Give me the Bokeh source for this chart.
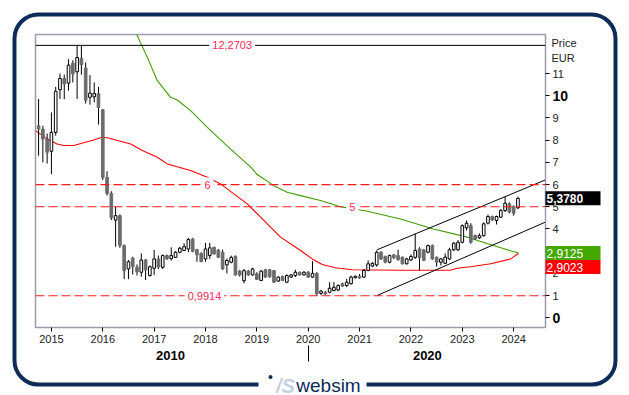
from bokeh.plotting import figure
from bokeh.layouts import column
from bokeh.models import Range1d, FixedTicker, Label, BoxAnnotation, Span, LinearAxis
from bokeh.embed import file_html
from bokeh.resources import INLINE

# ---------------- data ----------------
START = 2014.75  # first monthly candle: Oct 2014
OPEN = [8.65, 8.5, 8.05, 7.5, 8.35, 10.27, 10.78, 10.57, 11.47, 11.08, 11.68, 11.25,
        9.93, 9.95, 10.1, 9.37, 6.32, 5.6, 4.4, 4.6, 3.25, 2.2, 2.69, 2.27,
        2.05, 2.6, 1.9, 2.23, 2.65, 2.27, 2.8, 2.66, 2.72, 2.95, 3.03, 3.1,
        3.55, 3.07, 2.9, 2.65, 2.8, 3.17, 3.05, 2.95, 2.38, 2.5, 2.77, 2.1,
        1.67, 2.1, 1.93, 1.98, 1.68, 2.16, 2.16, 2.13, 1.65, 1.86, 1.6, 1.83,
        1.9, 2.05, 1.93, 2.05, 1.83, 2.0, 1.1, 1.15, 1.15, 1.22, 1.25, 1.53,
        1.45, 1.53, 1.8, 1.87, 1.83, 2.13, 2.33, 2.38, 2.95, 2.76, 2.5, 2.83,
        2.8, 2.73, 2.43, 2.6, 2.72, 3.1, 3.06, 2.95, 3.25, 2.73, 2.5, 2.45,
        2.65, 3.06, 3.06, 3.4, 4.05, 4.15, 3.7, 3.6, 3.7, 4.26, 4.56, 4.38,
        4.53, 4.83, 5.13, 5.01, 4.95]
HIGH = [9.85, 8.65, 8.3, 9.25, 10.4, 11.0, 10.95, 11.65, 11.6, 12.27, 12.25, 11.5,
        10.93, 10.6, 10.4, 9.4, 6.6, 5.7, 5.0, 4.65, 3.3, 2.6, 2.75, 2.4,
        2.9, 2.65, 2.35, 3.05, 2.8, 2.85, 2.85, 3.17, 3.0, 3.2, 3.35, 3.6,
        3.6, 3.1, 2.95, 3.37, 3.37, 3.2, 3.1, 3.07, 2.67, 2.8, 2.8, 2.15,
        2.2, 2.15, 2.25, 2.05, 2.15, 2.2, 2.2, 2.15, 1.87, 1.9, 1.95, 1.97,
        2.16, 2.08, 2.1, 2.1, 2.55, 2.05, 1.25, 1.2, 1.6, 1.6, 1.5, 1.58,
        1.75, 1.9, 1.9, 1.97, 2.2, 2.58, 2.5, 3.03, 3.0, 2.8, 2.85, 2.88,
        3.07, 2.75, 2.7, 2.85, 3.78, 3.18, 3.1, 3.3, 3.3, 2.75, 2.7, 2.9,
        3.15, 3.4, 3.5, 4.2, 4.38, 4.26, 3.75, 3.8, 4.3, 4.65, 4.6, 4.6,
        4.9, 5.46, 5.2, 5.06, 5.46]
LOW = [7.3, 7.0, 6.95, 6.47, 8.2, 9.85, 9.85, 10.23, 10.6, 9.85, 10.95, 9.65,
       9.6, 9.7, 8.7, 6.2, 5.5, 4.4, 3.2, 3.15, 1.74, 1.74, 1.95, 1.9,
       1.85, 1.7, 1.85, 1.93, 2.2, 2.2, 2.6, 2.58, 2.7, 2.9, 3.0, 2.95,
       2.95, 2.52, 2.5, 2.52, 2.65, 2.85, 2.7, 2.15, 2.0, 2.45, 1.9, 1.85,
       1.55, 1.88, 1.9, 1.7, 1.65, 1.8, 1.8, 1.58, 1.62, 1.65, 1.57, 1.8,
       1.83, 1.9, 1.9, 1.8, 1.8, 0.99, 1.02, 1.03, 1.1, 1.2, 1.2, 1.4,
       1.38, 1.5, 1.77, 1.75, 1.8, 2.1, 2.28, 2.3, 2.6, 2.45, 2.45, 2.65,
       2.58, 2.4, 2.4, 2.55, 2.65, 2.13, 2.55, 2.9, 2.6, 2.3, 2.35, 2.43,
       2.6, 3.0, 3.0, 3.35, 3.93, 3.33, 3.5, 3.55, 3.65, 4.2, 4.35, 4.2,
       4.5, 4.76, 4.7, 4.6, 4.9]
CLOSE = [8.5, 8.05, 7.45, 8.35, 10.2, 10.78, 10.53, 11.38, 10.98, 11.72, 11.4, 9.8,
         10.12, 10.1, 9.47, 6.32, 5.6, 4.5, 4.6, 3.25, 2.12, 2.52, 2.3, 2.07,
         2.6, 2.15, 2.3, 2.65, 2.28, 2.8, 2.66, 2.8, 2.95, 3.13, 3.2, 3.52,
         2.98, 2.83, 2.53, 3.1, 3.15, 2.87, 2.72, 2.2, 2.58, 2.72, 1.93, 1.93,
         2.12, 1.93, 2.2, 1.72, 2.1, 1.83, 1.85, 1.6, 1.83, 1.68, 1.9, 1.93,
         2.05, 1.93, 2.05, 1.83, 2.0, 1.07, 1.2, 1.07, 1.33, 1.37, 1.45, 1.42,
         1.6, 1.83, 1.87, 1.8, 2.13, 2.43, 2.45, 2.95, 2.65, 2.5, 2.8, 2.7,
         2.61, 2.43, 2.65, 2.76, 3.03, 2.7, 2.58, 3.25, 2.65, 2.5, 2.65, 2.73,
         3.06, 3.36, 3.4, 4.15, 4.26, 3.4, 3.55, 3.7, 4.23, 4.56, 4.41, 4.56,
         4.83, 5.16, 4.76, 4.71, 5.378]

RED_T = [2014.69, 2014.914, 2015.109, 2015.239, 2015.434, 2015.628, 2015.823, 2015.984,
         2016.115, 2016.212, 2016.543, 2016.770, 2017.062, 2017.257, 2017.710, 2018.035,
         2018.294, 2018.553, 2018.813, 2019.072, 2019.461, 2019.850, 2020.078, 2020.272,
         2020.531, 2020.856, 2021.796, 2022.769, 2022.899, 2023.158, 2023.553, 2023.942,
         2024.097]
RED_V = [8.43, 8.06, 7.83, 7.76, 7.76, 7.88, 8.01, 8.13,
         8.10, 8.03, 7.83, 7.53, 7.23, 6.93, 6.63, 6.33,
         6.03, 5.58, 5.13, 4.53, 3.63, 3.03, 2.65, 2.40,
         2.25, 2.16, 2.14, 2.14, 2.23, 2.30, 2.43, 2.65,
         2.9023]
GREEN_T = [2016.660, 2016.868, 2017.062, 2017.321, 2017.451, 2017.710, 2018.035, 2018.488,
           2018.877, 2019.008, 2019.331, 2019.591, 2019.850, 2020.239, 2020.628, 2021.154,
           2021.796, 2022.438, 2023.099, 2023.605, 2023.878, 2024.097]
GREEN_V = [12.76, 11.73, 10.68, 9.93, 9.81, 9.33, 8.58, 7.60,
           6.80, 6.45, 5.95, 5.65, 5.50, 5.28, 5.00, 4.80,
           4.45, 4.00, 3.63, 3.25, 3.06, 2.9125]
UPPER_T = [2021.34, 2024.62]
UPPER_V = [3.06, 6.21]
LOWER_T = [2021.34, 2024.62]
LOWER_V = [1.00, 4.31]

TOP_LEVEL = 12.2703
TOP_LABEL_T = 2018.52
DASHED_LEVELS = [6, 5, 0.9914]
LEVEL_LABELS = ["6", "5", "0,9914"]
LEVEL_LABEL_T = [2018.04, 2020.86, 2017.98]
LAST_PRICE = 5.378
GREEN_LAST = 2.9125
RED_LAST = 2.9023
YTICKS = list(range(0, 12))
BOLD_YTICKS = [0, 10]
XTICKS = list(range(2015, 2025))
XTICK_LABELS = [str(y) for y in XTICKS]
DECADE_T = [2017.32, 2022.32]
DECADE_LABELS = ["2010", "2020"]
DECADE_MARK = [2020]

# ---------------- geometry ----------------
W, H = 629, 395
X0, X1 = 2014.69, 2024.62
Y0, Y1 = -0.44, 12.76
FL, FR, FT, FB = 35, 545, 34, 327   # chart frame, page px
FONT = "Liberation Sans"
NAVY = "#0e2c58"
LBL_RED = "#ff2a55"


def val2py(v):
    return FT + (Y1 - v) * (FB - FT) / (Y1 - Y0)


def yr2px(t):
    return FL + (t - X0) * (FR - FL) / (X1 - X0)


# ============ main chart ============
p = figure(width=W, height=H, x_range=Range1d(X0, X1), y_range=Range1d(Y0, Y1),
           y_axis_location="right", output_backend="svg", toolbar_location=None, tools="")
p.frame_align = False
p.min_border = 0
p.min_border_left = FL
p.min_border_right = W - FR
p.min_border_top = FT
p.min_border_bottom = H - FB
p.grid.visible = False
p.outline_line_color = "#9c9cab"
p.outline_line_width = 1.5
p.background_fill_color = "white"
p.border_fill_color = "white"

ax = p.yaxis[0]
ax.ticker = FixedTicker(ticks=YTICKS)
ax.major_label_overrides = {v: " " for v in BOLD_YTICKS}
ax.major_tick_out = 4
ax.major_tick_in = 0
ax.minor_tick_line_color = None
ax.major_tick_line_color = "black"
ax.axis_line_color = "#9c9cab"
ax.major_label_text_font = FONT
ax.major_label_text_font_size = "11px"
ax.major_label_text_color = "#222222"
ax.major_label_standoff = 3

bx = p.xaxis[0]
bx.ticker = FixedTicker(ticks=XTICKS)
bx.major_label_overrides = {t: s for t, s in zip(XTICKS, XTICK_LABELS)}
bx.major_tick_out = 4
bx.major_tick_in = 0
bx.minor_tick_line_color = None
bx.major_tick_line_color = "black"
bx.axis_line_color = "#9c9cab"
bx.major_label_text_font = FONT
bx.major_label_text_font_size = "11px"
bx.major_label_text_color = "#222222"
bx.major_label_standoff = 3

# second time axis: only the long decade mark at 2020
dx = LinearAxis(ticker=FixedTicker(ticks=DECADE_MARK), major_label_overrides={DECADE_MARK[0]: " "})
dx.axis_line_color = None
dx.major_tick_line_color = "black"
dx.major_tick_out = 16
dx.major_tick_in = 0
dx.minor_tick_line_color = None
dx.major_label_text_font_size = "1px"
dx.major_label_standoff = 0
p.add_layout(dx, "below")

# levels
p.add_layout(Span(location=TOP_LEVEL, dimension="width", line_color="black", line_width=1))
for lv in DASHED_LEVELS:
    p.add_layout(Span(location=lv, dimension="width", line_color="#ff1a1a",
                      line_width=1.2, line_dash="9 4"))

# indicators
p.line(RED_T, RED_V, line_color="#ff0000", line_width=1.1)
p.line(GREEN_T, GREEN_V, line_color="#3f9c00", line_width=1.1)
p.line(UPPER_T, UPPER_V, line_color="black", line_width=1)
p.line(LOWER_T, LOWER_V, line_color="black", line_width=1)

# candles
T = [START + i / 12 for i in range(len(CLOSE))]
p.segment(T, HIGH, T, LOW, line_color="black", line_width=1)
up = [i for i in range(len(CLOSE)) if CLOSE[i] >= OPEN[i]]
dn = [i for i in range(len(CLOSE)) if CLOSE[i] < OPEN[i]]
BW = 0.62 / 12
p.vbar(x=[T[i] for i in up], top=[CLOSE[i] for i in up], bottom=[OPEN[i] for i in up],
       width=BW, fill_color="white", line_color="black", line_width=1)
p.vbar(x=[T[i] for i in dn], top=[OPEN[i] for i in dn], bottom=[CLOSE[i] for i in dn],
       width=BW, fill_color="#6c6c6c", line_color="#6c6c6c", line_width=1)

# level labels
p.add_layout(Label(x=TOP_LABEL_T, y=TOP_LEVEL, text="12,2703", text_align="center",
                   text_baseline="middle", text_font=FONT, text_font_size="11px",
                   text_color=LBL_RED, background_fill_color="white", padding=3))
for t, lv, s in zip(LEVEL_LABEL_T, DASHED_LEVELS, LEVEL_LABELS):
    p.add_layout(Label(x=t, y=lv, text=s, text_align="center", text_baseline="middle",
                       text_font=FONT, text_font_size="11px", text_color=LBL_RED,
                       background_fill_color="white", padding=3))

# ============ transparent decoration layer on top (pixel coordinates) ============
deco = figure(width=W, height=H, x_range=Range1d(0, W), y_range=Range1d(H, 0),
              x_axis_location=None, y_axis_location=None,
              output_backend="svg", toolbar_location=None, tools="")
deco.frame_align = False
deco.styles = {"position": "absolute", "top": "0px", "left": "0px"}
deco.min_border = 0
deco.grid.visible = False
deco.outline_line_color = None
deco.background_fill_alpha = 0
deco.border_fill_alpha = 0

# outer rounded frame
deco.add_layout(BoxAnnotation(left=14, right=615, top=14, bottom=384, fill_color=None,
                              line_color=NAVY, line_alpha=1, line_width=4, border_radius=24))
# logo gap
deco.add_layout(BoxAnnotation(left=258, right=366, top=377, bottom=391, fill_color="white",
                              fill_alpha=1, line_color=None))
deco.add_layout(Label(x=270, y=376, text="•", text_align="center", text_baseline="middle",
                      text_font=FONT, text_font_size="14px", text_color=NAVY))
deco.add_layout(Label(x=285, y=385, text="/S", text_align="center", text_baseline="middle",
                      text_font=FONT, text_font_size="20px", text_font_style="bold italic",
                      text_color="#c5d0df"))
deco.add_layout(Label(x=328, y=385, text="websim", text_align="center", text_baseline="middle",
                      text_font=FONT, text_font_size="19px", text_color=NAVY))

# right-hand captions
deco.add_layout(Label(x=FR + 6, y=42, text="Price", text_baseline="middle",
                      text_font=FONT, text_font_size="11px", text_color="#222222"))
deco.add_layout(Label(x=FR + 6, y=57, text="EUR", text_baseline="middle",
                      text_font=FONT, text_font_size="11px", text_color="#222222"))
for v in BOLD_YTICKS:
    deco.add_layout(Label(x=FR + 7, y=val2py(v), text=str(v), text_baseline="middle",
                          text_font=FONT, text_font_size="14px", text_font_style="bold",
                          text_color="black"))

# decade captions under the time axis
for t, s in zip(DECADE_T, DECADE_LABELS):
    deco.add_layout(Label(x=yr2px(t), y=355, text=s, text_align="center", text_baseline="middle",
                          text_font=FONT, text_font_size="13px", text_font_style="bold",
                          text_color="black"))

# last-value boxes
BOX_HALF = 7
boxes = [(LAST_PRICE, val2py(LAST_PRICE), "black", "bold"),
         (GREEN_LAST, val2py(GREEN_LAST), "#44a800", "normal"),
         (RED_LAST, val2py(GREEN_LAST) + 2 * BOX_HALF, "#ff0000", "normal")]
for val, cy, col, style in boxes:
    deco.add_layout(BoxAnnotation(left=FR, right=600, top=cy - BOX_HALF, bottom=cy + BOX_HALF,
                                  fill_color=col, fill_alpha=1, line_color=None))
    deco.add_layout(Label(x=FR + 1, y=cy, text=f"{val:.4f}".replace(".", ","),
                          text_baseline="middle", text_font=FONT, text_font_size="12px",
                          text_font_style=style, text_color="white"))

layout = column(p, deco)
open("out.html", "w").write(file_html(layout, INLINE))
